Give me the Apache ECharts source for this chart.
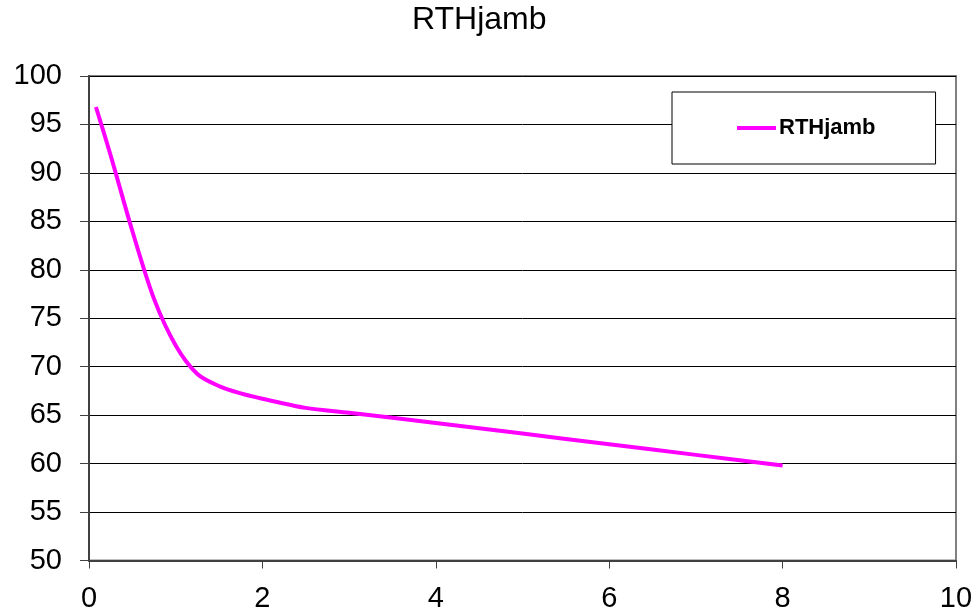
<!DOCTYPE html>
<html>
<head>
<meta charset="utf-8">
<script src="https://cdn.jsdelivr.net/npm/echarts@6/dist/echarts.min.js"></script>
<style>
html,body{margin:0;padding:0;background:#fff;}
#chart{width:980px;height:616px;}
</style>
</head>
<body>
<div id="chart"></div>
<script>
const seriesName = 'RTHjamb';
const xValues = [0.08, 0.25, 0.5, 0.75, 1.0, 1.25, 1.5, 1.75, 2.0, 2.5, 3.0, 4.0, 5.0, 6.0, 7.0, 8.0];
const yValues = [96.8, 91.8, 84.0, 77.0, 72.2, 69.25, 68.0, 67.25, 66.7, 65.75, 65.25, 64.2, 63.1, 62.0, 60.9, 59.8];

const points = xValues.map((x, i) => [x, yValues[i]]);
const font = '"Liberation Sans", Arial, sans-serif';

const chart = echarts.init(document.getElementById('chart'), null, {renderer: 'canvas'});
chart.setOption({
  animation: false,
  backgroundColor: '#fff',
  title: {
    text: 'RTHjamb',
    left: 412,
    top: 4,
    padding: 0,
    textStyle: {fontFamily: font, fontSize: 32, fontWeight: 'normal', color: '#000'}
  },
  legend: {
    data: [seriesName],
    left: 672,
    top: 92,
    padding: [25, 60, 25, 65],
    backgroundColor: '#fff',
    borderColor: '#000',
    borderWidth: 1,
    icon: 'rect',
    itemWidth: 39,
    itemHeight: 4,
    itemGap: 0,
    textStyle: {fontFamily: font, fontSize: 22, fontWeight: 'bold', color: '#000', lineHeight: 22, padding: [0,0,0,-2]}
  },
  grid: {
    left: 89, right: 24, top: 76, bottom: 55.5,
    show: true,
    borderColor: '#808080',
    borderWidth: 2,
    backgroundColor: '#fff'
  },
  xAxis: {
    type: 'value',
    min: 0, max: 10, interval: 2,
    axisLine: {show: true, onZero: false, lineStyle: {color: '#404040', width: 2}},
    axisTick: {show: true, length: 8, lineStyle: {color: '#404040', width: 1}},
    axisLabel: {fontFamily: font, fontSize: 29, color: '#000', margin: 24},
    splitLine: {show: false}
  },
  yAxis: {
    type: 'value',
    min: 50, max: 100, interval: 5,
    axisLine: {show: true, lineStyle: {color: '#404040', width: 2}},
    axisTick: {show: true, length: 9, lineStyle: {color: '#404040', width: 1}},
    axisLabel: {fontFamily: font, fontSize: 29, color: '#000', margin: 27},
    splitLine: {show: true, lineStyle: {color: '#000', width: 1}}
  },
  series: [{
    name: seriesName,
    type: 'line',
    data: points,
    smooth: 0.3,
    symbol: 'none',
    lineStyle: {color: '#FF00FF', width: 4},
    itemStyle: {color: '#FF00FF'}
  }]
});
</script>
</body>
</html>
